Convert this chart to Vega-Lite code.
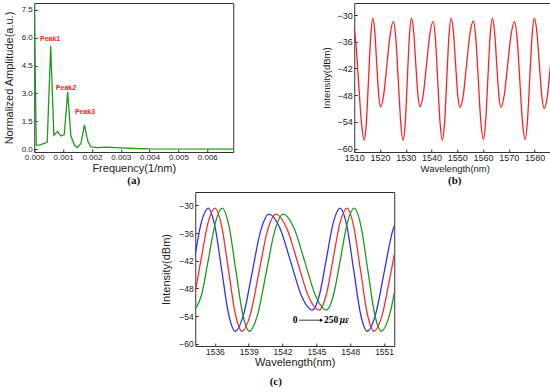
{
  "$schema": "https://vega.github.io/schema/vega-lite/v6.json",
  "padding": {"left": 2, "top": 2, "right": 0, "bottom": 0},
  "background": "white",
  "config": {
    "font": "Liberation Sans",
    "view": {"stroke": "#333333", "strokeWidth": 1},
    "axis": {"domain": false, "grid": false, "ticks": true, "tickSize": -3, "tickColor": "#333333", "labelColor": "#222222", "titleColor": "#222222", "titleFontWeight": "normal", "labelPadding": 5, "titlePadding": 4, "labelFlush": false, "labelOverlap": false},
    "axisX": {"labelPadding": 4, "titlePadding": 1},
    "title": {"font": "Liberation Serif", "fontWeight": "bold", "fontSize": 11, "orient": "bottom", "color": "#111111"}
  },
  "datasets": {
    "fft": [
      {"f": 0, "a": 7.8}, {"f": 0.00007, "a": 0.2}, {"f": 0.0002, "a": 0.22}, {"f": 0.00035, "a": 0.3}, {"f": 0.00045, "a": 0.38},
      {"f": 0.00057, "a": 5.55}, {"f": 0.00068, "a": 0.75}, {"f": 0.00081, "a": 0.95}, {"f": 0.00092, "a": 0.7}, {"f": 0.00104, "a": 0.78},
      {"f": 0.00116, "a": 3.08}, {"f": 0.00127, "a": 0.7}, {"f": 0.0014, "a": 0.2}, {"f": 0.0015, "a": 0.08}, {"f": 0.00162, "a": 0.3},
      {"f": 0.00174, "a": 1.3}, {"f": 0.00186, "a": 0.4}, {"f": 0.00197, "a": 0.12}, {"f": 0.0022, "a": 0.08}, {"f": 0.0025, "a": 0.1},
      {"f": 0.003, "a": 0.06}, {"f": 0.0035, "a": 0.03}, {"f": 0.004, "a": 0.01}, {"f": 0.0069, "a": 0.0}
    ],
    "peaks": [
      {"f": 0.00055, "a": 5.95, "t": "Peak1"},
      {"f": 0.0011, "a": 3.28, "t": "Peak2"},
      {"f": 0.00176, "a": 2.0, "t": "Peak3"}
    ],
    "spec": [
      {"w": 1509.4, "p": -31.5}, {"w": 1510.5, "p": -35.4}, {"w": 1511.65, "p": -44.8}, {"w": 1512.8, "p": -54.2},
      {"w": 1513.9, "p": -58.1}, {"w": 1514.7, "p": -54.1}, {"w": 1515.55, "p": -44.4}, {"w": 1516.4, "p": -34.7},
      {"w": 1517.2, "p": -30.7}, {"w": 1517.95, "p": -33.6}, {"w": 1518.7, "p": -40.65}, {"w": 1519.45, "p": -47.7},
      {"w": 1520.2, "p": -50.6}, {"w": 1521.45, "p": -47.8}, {"w": 1522.7, "p": -41.05}, {"w": 1523.95, "p": -34.3},
      {"w": 1525.2, "p": -31.5}, {"w": 1526.15, "p": -35.4}, {"w": 1527.1, "p": -44.8}, {"w": 1528.05, "p": -54.2},
      {"w": 1529.0, "p": -58.1}, {"w": 1529.8, "p": -54.1}, {"w": 1530.6, "p": -44.4}, {"w": 1531.4, "p": -34.7},
      {"w": 1532.2, "p": -30.7}, {"w": 1533.03, "p": -33.6}, {"w": 1533.85, "p": -40.65}, {"w": 1534.68, "p": -47.7},
      {"w": 1535.5, "p": -50.6}, {"w": 1536.78, "p": -47.8}, {"w": 1538.05, "p": -41.05}, {"w": 1539.33, "p": -34.3},
      {"w": 1540.6, "p": -31.5}, {"w": 1541.5, "p": -35.4}, {"w": 1542.4, "p": -44.8}, {"w": 1543.3, "p": -54.2},
      {"w": 1544.2, "p": -58.1}, {"w": 1545.05, "p": -54.1}, {"w": 1545.9, "p": -44.4}, {"w": 1546.75, "p": -34.7},
      {"w": 1547.6, "p": -30.7}, {"w": 1548.45, "p": -33.6}, {"w": 1549.3, "p": -40.75}, {"w": 1550.15, "p": -47.9},
      {"w": 1551.0, "p": -50.8}, {"w": 1552.3, "p": -48.0}, {"w": 1553.6, "p": -41.1}, {"w": 1554.9, "p": -34.2},
      {"w": 1556.2, "p": -31.4}, {"w": 1557.18, "p": -35.3}, {"w": 1558.15, "p": -44.65}, {"w": 1559.13, "p": -54.0},
      {"w": 1560.1, "p": -57.9}, {"w": 1560.98, "p": -53.9}, {"w": 1561.85, "p": -44.3}, {"w": 1562.73, "p": -34.7},
      {"w": 1563.6, "p": -30.7}, {"w": 1564.43, "p": -33.6}, {"w": 1565.25, "p": -40.7}, {"w": 1566.08, "p": -47.8},
      {"w": 1566.9, "p": -50.7}, {"w": 1568.23, "p": -47.9}, {"w": 1569.55, "p": -41.1}, {"w": 1570.88, "p": -34.3},
      {"w": 1572.2, "p": -31.5}, {"w": 1573.23, "p": -35.4}, {"w": 1574.25, "p": -44.7}, {"w": 1575.28, "p": -54.0},
      {"w": 1576.3, "p": -57.9}, {"w": 1577.2, "p": -53.9}, {"w": 1578.1, "p": -44.3}, {"w": 1579.0, "p": -34.7},
      {"w": 1579.9, "p": -30.7}, {"w": 1580.85, "p": -33.7}, {"w": 1581.8, "p": -40.85}, {"w": 1582.75, "p": -48.0},
      {"w": 1583.7, "p": -51.0}, {"w": 1584.93, "p": -48.2}, {"w": 1586.15, "p": -41.25}, {"w": 1587.38, "p": -34.35},
      {"w": 1588.6, "p": -31.5}
    ],
    "strain": [
      {"s": "0", "w": 1532.95, "p": -52.7}, {"s": "0", "w": 1533.56, "p": -49.5}, {"s": "0", "w": 1534.18, "p": -41.65}, {"s": "0", "w": 1534.79, "p": -33.8},
      {"s": "0", "w": 1535.4, "p": -30.6}, {"s": "0", "w": 1536.0, "p": -34.5}, {"s": "0", "w": 1536.6, "p": -43.95}, {"s": "0", "w": 1537.2, "p": -53.4},
      {"s": "0", "w": 1537.8, "p": -57.3}, {"s": "0", "w": 1538.55, "p": -53.6}, {"s": "0", "w": 1539.3, "p": -44.6}, {"s": "0", "w": 1540.05, "p": -35.6},
      {"s": "0", "w": 1540.8, "p": -31.9}, {"s": "0", "w": 1541.76, "p": -34.9}, {"s": "0", "w": 1542.73, "p": -42.3}, {"s": "0", "w": 1543.69, "p": -49.7},
      {"s": "0", "w": 1544.65, "p": -52.7}, {"s": "0", "w": 1545.26, "p": -49.5}, {"s": "0", "w": 1545.88, "p": -41.65}, {"s": "0", "w": 1546.49, "p": -33.8},
      {"s": "0", "w": 1547.1, "p": -30.6}, {"s": "0", "w": 1547.7, "p": -34.5}, {"s": "0", "w": 1548.3, "p": -43.95}, {"s": "0", "w": 1548.9, "p": -53.4},
      {"s": "0", "w": 1549.5, "p": -57.3}, {"s": "0", "w": 1550.25, "p": -53.6}, {"s": "0", "w": 1551.0, "p": -44.6}, {"s": "0", "w": 1551.75, "p": -35.6},
      {"s": "0", "w": 1552.5, "p": -31.9},
      {"s": "125", "w": 1533.55, "p": -52.7}, {"s": "125", "w": 1534.16, "p": -49.5}, {"s": "125", "w": 1534.78, "p": -41.65}, {"s": "125", "w": 1535.39, "p": -33.8},
      {"s": "125", "w": 1536.0, "p": -30.6}, {"s": "125", "w": 1536.6, "p": -34.5}, {"s": "125", "w": 1537.2, "p": -43.95}, {"s": "125", "w": 1537.8, "p": -53.4},
      {"s": "125", "w": 1538.4, "p": -57.3}, {"s": "125", "w": 1539.15, "p": -53.6}, {"s": "125", "w": 1539.9, "p": -44.6}, {"s": "125", "w": 1540.65, "p": -35.6},
      {"s": "125", "w": 1541.4, "p": -31.9}, {"s": "125", "w": 1542.36, "p": -34.9}, {"s": "125", "w": 1543.33, "p": -42.3}, {"s": "125", "w": 1544.29, "p": -49.7},
      {"s": "125", "w": 1545.25, "p": -52.7}, {"s": "125", "w": 1545.86, "p": -49.5}, {"s": "125", "w": 1546.48, "p": -41.65}, {"s": "125", "w": 1547.09, "p": -33.8},
      {"s": "125", "w": 1547.7, "p": -30.6}, {"s": "125", "w": 1548.3, "p": -34.5}, {"s": "125", "w": 1548.9, "p": -43.95}, {"s": "125", "w": 1549.5, "p": -53.4},
      {"s": "125", "w": 1550.1, "p": -57.3}, {"s": "125", "w": 1550.85, "p": -53.6}, {"s": "125", "w": 1551.6, "p": -44.6}, {"s": "125", "w": 1552.35, "p": -35.6},
      {"s": "125", "w": 1553.1, "p": -31.9},
      {"s": "250", "w": 1534.2, "p": -52.7}, {"s": "250", "w": 1534.81, "p": -49.5}, {"s": "250", "w": 1535.43, "p": -41.65}, {"s": "250", "w": 1536.04, "p": -33.8},
      {"s": "250", "w": 1536.65, "p": -30.6}, {"s": "250", "w": 1537.25, "p": -34.5}, {"s": "250", "w": 1537.85, "p": -43.95}, {"s": "250", "w": 1538.45, "p": -53.4},
      {"s": "250", "w": 1539.05, "p": -57.3}, {"s": "250", "w": 1539.8, "p": -53.6}, {"s": "250", "w": 1540.55, "p": -44.6}, {"s": "250", "w": 1541.3, "p": -35.6},
      {"s": "250", "w": 1542.05, "p": -31.9}, {"s": "250", "w": 1543.01, "p": -34.9}, {"s": "250", "w": 1543.98, "p": -42.3}, {"s": "250", "w": 1544.94, "p": -49.7},
      {"s": "250", "w": 1545.9, "p": -52.7}, {"s": "250", "w": 1546.51, "p": -49.5}, {"s": "250", "w": 1547.13, "p": -41.65}, {"s": "250", "w": 1547.74, "p": -33.8},
      {"s": "250", "w": 1548.35, "p": -30.6}, {"s": "250", "w": 1548.95, "p": -34.5}, {"s": "250", "w": 1549.55, "p": -43.95}, {"s": "250", "w": 1550.15, "p": -53.4},
      {"s": "250", "w": 1550.75, "p": -57.3}, {"s": "250", "w": 1551.5, "p": -53.6}, {"s": "250", "w": 1552.25, "p": -44.6}, {"s": "250", "w": 1553.0, "p": -35.6},
      {"s": "250", "w": 1553.75, "p": -31.9}
    ],
    "arrowline": [{"w": 1543.47, "p": -54.9}, {"w": 1545.4, "p": -54.9}],
    "arrowhead": [{"w": 1545.45, "p": -54.9}],
    "annot0": [{"w": 1543.11, "p": -54.9, "t": "0"}],
    "annot250": [{"w": 1545.68, "p": -54.9, "t": "250"}],
    "annotmu": [{"w": 1547.07, "p": -54.9, "t": "με"}]
  },
  "center": true,
  "spacing": 4,
  "vconcat": [
    {
      "spacing": 87,
      "hconcat": [
        {
          "width": 199,
          "height": 149,
          "title": {"text": "(a)", "anchor": "middle", "offset": 2},
          "encoding": {
            "x": {"field": "f", "type": "quantitative", "scale": {"domain": [0, 0.0069], "nice": false, "zero": false},
                  "axis": {"title": "Frequency(1/nm)", "values": [0, 0.001, 0.002, 0.003, 0.004, 0.005, 0.006], "format": ".3f", "labelFontSize": 8, "titleFontSize": 11}},
            "y": {"field": "a", "type": "quantitative", "scale": {"domain": [-0.16, 7.875], "nice": false, "zero": false},
                  "axis": {"title": "Normalized Amplitude(a.u.)", "values": [0, 1.5, 3, 4.5, 6, 7.5], "format": ".1f", "labelFontSize": 8, "titleFontSize": 11, "titlePadding": 7}}
          },
          "layer": [
            {"data": {"name": "fft"}, "mark": {"type": "line", "color": "#1e9a1e", "strokeWidth": 1.3, "clip": true}},
            {"data": {"name": "peaks"}, "mark": {"type": "text", "color": "#ff2020", "fontWeight": "bold", "fontSize": 7, "font": "Liberation Sans"}, "encoding": {"text": {"field": "t"}}}
          ]
        },
        {
          "width": 201,
          "height": 149,
          "title": {"text": "(b)", "anchor": "middle", "offset": 2},
          "data": {"name": "spec"},
          "mark": {"type": "line", "color": "#ff2020", "strokeWidth": 1.3, "interpolate": "monotone", "clip": true},
          "encoding": {
            "x": {"field": "w", "type": "quantitative", "scale": {"domain": [1510, 1588], "nice": false, "zero": false},
                  "axis": {"title": "Wavelength(nm)", "values": [1510, 1520, 1530, 1540, 1550, 1560, 1570, 1580], "format": "d", "labelFontSize": 9, "titleFontSize": 9.5}},
            "y": {"field": "p", "type": "quantitative", "scale": {"domain": [-60.75, -27.3], "nice": false, "zero": false},
                  "axis": {"title": "Intensity(dBm)", "values": [-30, -36, -42, -48, -54, -60], "format": "d", "labelFontSize": 9, "titleFontSize": 9.5, "titlePadding": 5}}
          }
        }
      ]
    },
    {
      "width": 199,
      "height": 154,
      "title": {"text": "(c)", "anchor": "middle", "offset": 8, "dx": -19},
      "encoding": {
        "x": {"field": "w", "type": "quantitative", "scale": {"domain": [1534.26, 1551.9], "nice": false, "zero": false},
              "axis": {"title": "Wavelength(nm)", "values": [1536, 1539, 1542, 1545, 1548, 1551], "format": "d", "labelFontSize": 8.5, "titleFontSize": 11}},
        "y": {"field": "p", "type": "quantitative", "scale": {"domain": [-60.5, -27.1], "nice": false, "zero": false},
              "axis": {"title": "Intensity(dBm)", "values": [-30, -36, -42, -48, -54, -60], "format": "d", "labelFontSize": 8.5, "titleFontSize": 11, "titlePadding": 7}}
      },
      "layer": [
        {"data": {"name": "strain"}, "mark": {"type": "line", "strokeWidth": 1.3, "interpolate": "monotone", "clip": true},
         "encoding": {"color": {"field": "s", "type": "nominal", "scale": {"domain": ["0", "125", "250"], "range": ["#2f2fff", "#ff2a2a", "#1a9a1a"]}, "legend": null}}},
        {"data": {"name": "arrowline"}, "mark": {"type": "line", "color": "#000000", "strokeWidth": 0.8}},
        {"data": {"name": "arrowhead"}, "mark": {"type": "point", "shape": "triangle-right", "filled": true, "color": "#000000", "size": 14, "opacity": 1}},
        {"data": {"name": "annot0"}, "mark": {"type": "text", "font": "Liberation Serif", "fontWeight": "bold", "fontSize": 9.5, "color": "#000000"}, "encoding": {"text": {"field": "t"}}},
        {"data": {"name": "annot250"}, "mark": {"type": "text", "font": "Liberation Serif", "fontWeight": "bold", "fontSize": 9.5, "align": "left", "color": "#000000"}, "encoding": {"text": {"field": "t"}}},
        {"data": {"name": "annotmu"}, "mark": {"type": "text", "font": "Liberation Serif", "fontWeight": "bold", "fontStyle": "italic", "fontSize": 9.5, "align": "left", "color": "#000000"}, "encoding": {"text": {"field": "t"}}}
      ]
    }
  ]
}
